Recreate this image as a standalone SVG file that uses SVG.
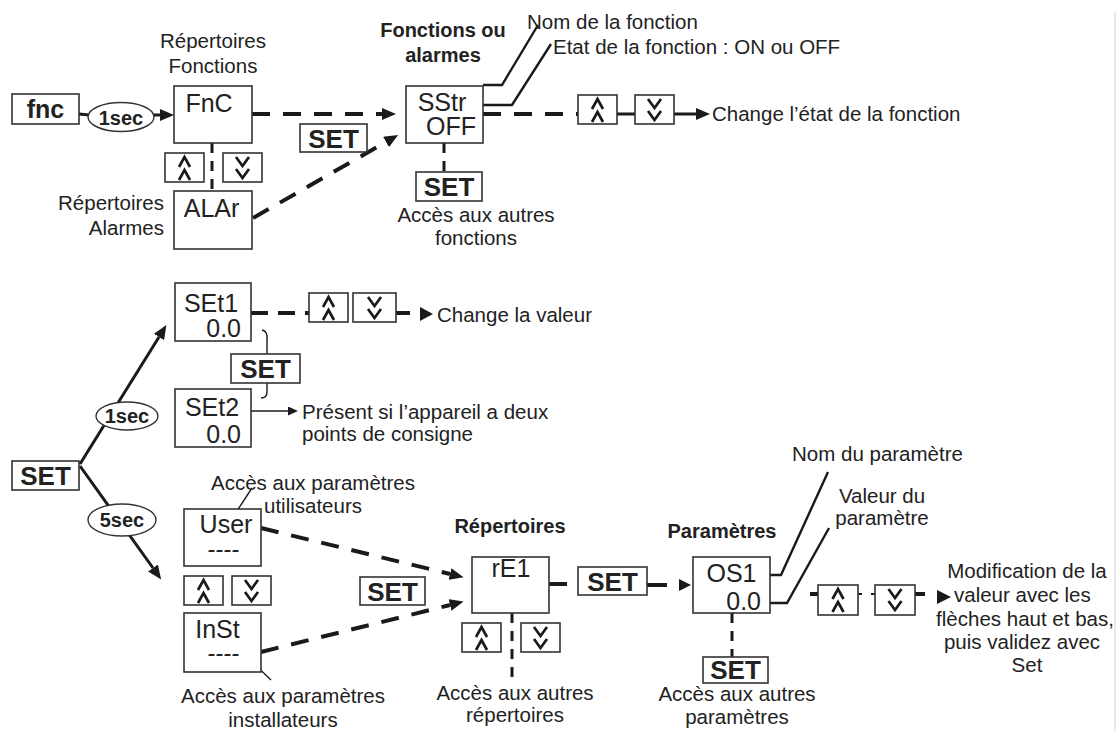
<svg xmlns="http://www.w3.org/2000/svg" width="1119" height="731" viewBox="0 0 1119 731">
<style>
text{font-family:"Liberation Sans",Arial,Helvetica,sans-serif;fill:#222}
.t{font-size:20.5px}
.tb{font-size:20px;font-weight:bold}
.m{text-anchor:middle}
.e{text-anchor:end}
.bx{fill:#fff;stroke:#333;stroke-width:1.6}
.d{font-size:25px}
.dd{font-size:24px}
.k{font-size:26px;font-weight:bold}
.ov{font-size:20px;font-weight:bold}
.dash{fill:none;stroke:#1a1a1a;stroke-width:4;stroke-dasharray:18 13}
.vd{fill:none;stroke:#1a1a1a;stroke-width:3;stroke-dasharray:10 8}
.sl{fill:none;stroke:#1a1a1a;stroke-width:3}
.th{fill:none;stroke:#1a1a1a;stroke-width:1.4}
.ch{fill:none;stroke:#1a1a1a;stroke-width:2.7}
.ah{fill:#1a1a1a}
</style>
<defs>
<marker id="arr" viewBox="0 0 14 12" refX="0" refY="6" markerWidth="14" markerHeight="12" markerUnits="userSpaceOnUse" orient="auto"><path d="M0,0 L14,6 L0,12 z" fill="#1a1a1a"/></marker>
<marker id="arrs" viewBox="0 0 10 9" refX="0" refY="4.5" markerWidth="10" markerHeight="9" markerUnits="userSpaceOnUse" orient="auto"><path d="M0,0 L10,4.5 L0,9 z" fill="#1a1a1a"/></marker>
<g id="upk"><rect class="bx" x="0" y="0" width="39" height="29"/><path class="ch" d="M14,14 L19.5,4 L25,14 M14,27 L19.5,17 L25,27"/></g>
<g id="dnk"><rect class="bx" x="0" y="0" width="39" height="29"/><path class="ch" d="M13,4 L19.5,13 L26,4 M13,16 L19.5,25 L26,16"/></g>
</defs>
<rect x="0" y="0" width="1119" height="731" fill="#fff"/>
<line x1="1115" y1="12" x2="1115" y2="731" stroke="#e2e2e2" stroke-width="1.5"/>

<g id="connectors">
<line class="sl" x1="79" y1="114" x2="89" y2="115"/>
<line class="sl" x1="154" y1="115" x2="160" y2="115" marker-end="url(#arr)"/>
<line class="vd" x1="212" y1="143" x2="212" y2="191"/>
<line class="dash" x1="252" y1="114" x2="382" y2="114" marker-end="url(#arr)"/>
<line class="dash" x1="253" y1="218" x2="386" y2="142" marker-end="url(#arr)"/>
<polyline class="sl" style="stroke-width:2.4" points="483,85 502,85 538,25"/>
<polyline class="sl" style="stroke-width:2.4" points="483,105 512,105 551,44"/>
<line class="dash" x1="483" y1="114" x2="578" y2="114"/>
<line class="sl" x1="617" y1="114" x2="635" y2="114"/>
<line class="sl" x1="674" y1="114" x2="696" y2="114" marker-end="url(#arr)"/>
<line class="vd" x1="444" y1="143" x2="444" y2="172"/>

<line class="dash" style="stroke-dasharray:17 10" x1="251" y1="313" x2="309" y2="313"/>
<line class="sl" style="stroke-width:4" x1="396" y1="313" x2="410" y2="313"/>
<path class="ah" d="M420,307 L433,314 L420,321 z"/>
<path class="th" d="M262,330 Q268,331 267,340 L267,354 M267,383 L267,392 Q267,398 261,398"/>
<line class="th" x1="242" y1="411" x2="288" y2="411" marker-end="url(#arrs)"/>

<line class="sl" x1="80" y1="464" x2="159" y2="337" marker-end="url(#arr)"/>
<line class="sl" x1="80" y1="466" x2="153" y2="568" marker-end="url(#arr)"/>
<line class="th" x1="252" y1="488" x2="233" y2="517"/>
<line class="th" x1="245" y1="655" x2="271" y2="680"/>
<line class="dash" x1="261" y1="528" x2="450" y2="574" marker-end="url(#arr)"/>
<line class="dash" x1="261" y1="652" x2="450" y2="605" marker-end="url(#arr)"/>
<line class="vd" x1="512" y1="613" x2="512" y2="677"/>
<line class="sl" style="stroke-width:4" x1="549" y1="584" x2="567" y2="584"/>
<line class="sl" style="stroke-width:4" x1="647" y1="585" x2="667" y2="585"/>
<path class="ah" d="M679,579 L691,585 L679,591 z"/>
<polyline class="sl" style="stroke-width:2.4" points="770,575 781,575 828,472"/>
<polyline class="sl" style="stroke-width:2.4" points="770,603 787,603 829,528"/>
<line class="vd" x1="732" y1="613" x2="732" y2="657"/>
<line class="sl" style="stroke-width:4" x1="810" y1="594" x2="818" y2="594"/>
<line class="sl" style="stroke-width:2" x1="858" y1="594" x2="862" y2="594"/>
<line class="sl" style="stroke-width:2" x1="871" y1="594" x2="875" y2="594"/>
<line class="sl" style="stroke-width:4" x1="915" y1="594" x2="925" y2="594"/>
<path class="ah" d="M937,590 L951,597 L937,604 z"/>
</g>

<g id="n-fnc"><rect class="bx" x="12" y="94" width="67" height="30"/><text class="k" style="font-size:25px" x="45.5" y="118" text-anchor="middle">fnc</text></g>
<g id="n-1sec-a"><ellipse cx="121" cy="117" rx="33" ry="14.5" fill="#fff" stroke="#333" stroke-width="1.4"/><text class="ov m" x="121" y="125">1sec</text></g>
<g id="n-FnC"><rect class="bx" x="174" y="86" width="78" height="57"/><text class="d m" x="209" y="112">FnC</text>
<text class="t m" x="213" y="48">Répertoires</text><text class="t m" x="213" y="73">Fonctions</text></g>
<g id="k-fnc-up"><use href="#upk" x="165" y="153"/></g>
<g id="k-fnc-dn"><use href="#dnk" x="223" y="153"/></g>
<g id="n-ALAr"><rect class="bx" x="174" y="191" width="78" height="58"/><text class="d m" x="211.5" y="217">ALAr</text>
<text class="t e" x="164" y="210">Répertoires</text><text class="t e" x="164" y="235">Alarmes</text></g>
<g id="k-set1"><rect class="bx" x="300" y="124" width="67" height="28"/><text class="k m" x="333.5" y="148">SET</text></g>
<g id="n-SStr"><rect class="bx" x="406" y="86" width="77" height="57"/><text class="d m" x="442" y="111">SStr</text><text class="d m" x="451" y="135">OFF</text>
<text class="tb m" x="443" y="37">Fonctions ou</text><text class="tb m" x="443" y="62">alarmes</text>
<text class="t" x="527" y="29">Nom de la fonction</text><text class="t" x="553" y="54">Etat de la fonction : ON ou OFF</text></g>
<g id="k-sstr-up"><use href="#upk" x="578" y="95"/></g>
<g id="k-sstr-dn"><use href="#dnk" x="635" y="95"/></g>
<g id="l-change1"><text class="t" x="712" y="121">Change l’état de la fonction</text></g>
<g id="k-set2"><rect class="bx" x="416" y="172" width="66" height="29"/><text class="k m" x="449" y="196">SET</text>
<text class="t m" x="476" y="222">Accès aux autres</text><text class="t m" x="476" y="245">fonctions</text></g>

<g id="n-SEt1"><rect class="bx" x="175" y="283" width="76" height="58"/><text class="d m" x="211" y="312">SEt1</text><text class="d e" x="241" y="337">0.0</text></g>
<g id="k-set1-up"><use href="#upk" x="309" y="293"/></g>
<g id="k-set1-dn"><rect class="bx" x="353" y="293" width="43" height="29"/><path class="ch" d="M368,297 L374.5,306 L381,297 M368,309 L374.5,318 L381,309"/></g>
<g id="l-change2"><text class="t" x="437" y="322">Change la valeur</text></g>
<g id="k-set3"><rect class="bx" x="231" y="354" width="69" height="29"/><text class="k m" x="265.5" y="378">SET</text></g>
<g id="n-SEt2"><rect class="bx" x="175" y="389" width="76" height="58"/><text class="d m" x="212" y="416">SEt2</text><text class="d e" x="241" y="443">0.0</text>
<text class="t" x="302" y="419">Présent si l’appareil a deux</text><text class="t" x="302" y="441">points de consigne</text></g>

<g id="n-SET-main"><rect class="bx" x="12" y="461" width="67" height="29"/><text class="k m" x="45.5" y="485">SET</text></g>
<g id="n-1sec-b"><ellipse cx="127" cy="416" rx="31" ry="14" fill="#fff" stroke="#333" stroke-width="1.4"/><text class="ov m" x="127" y="423">1sec</text></g>
<g id="n-5sec"><ellipse cx="122" cy="520" rx="34" ry="16" fill="#fff" stroke="#333" stroke-width="1.4"/><text class="ov m" x="122" y="527">5sec</text></g>

<g id="n-User"><rect class="bx" x="184" y="509" width="77" height="57"/><text class="d m" x="226" y="533">User</text><text class="dd m" x="223.5" y="557">----</text>
<text class="t m" x="313" y="490">Accès aux paramètres</text><text class="t m" x="313" y="513">utilisateurs</text></g>
<g id="k-user-up"><use href="#upk" x="184" y="576"/></g>
<g id="k-user-dn"><use href="#dnk" x="232" y="576"/></g>
<g id="n-InSt"><rect class="bx" x="184" y="613" width="77" height="59"/><text class="d m" x="217.5" y="638">InSt</text><text class="dd m" x="223.5" y="661">----</text>
<text class="t m" x="283" y="703">Accès aux paramètres</text><text class="t m" x="283" y="727">installateurs</text></g>
<g id="k-set4"><rect class="bx" x="360" y="577" width="65" height="28"/><text class="k m" x="392.5" y="601">SET</text></g>

<g id="n-rE1"><rect class="bx" x="472" y="557" width="77" height="56"/><text class="d m" x="511" y="577">rE1</text>
<text class="tb m" x="510" y="533">Répertoires</text>
<text class="t m" x="515" y="700">Accès aux autres</text><text class="t m" x="515" y="722">répertoires</text></g>
<g id="k-re1-up"><use href="#upk" x="462" y="623"/></g>
<g id="k-re1-dn"><use href="#dnk" x="521" y="623"/></g>
<g id="k-set5"><rect class="bx" x="578" y="567" width="69" height="28"/><text class="k m" x="612.5" y="591">SET</text></g>

<g id="n-OS1"><rect class="bx" x="693" y="557" width="77" height="56"/><text class="d m" x="731.5" y="582">OS1</text><text class="d e" x="761" y="610">0.0</text>
<text class="tb m" x="722" y="538">Paramètres</text>
<text class="t" x="792" y="461">Nom du paramètre</text>
<text class="t m" x="882" y="503">Valeur du</text><text class="t m" x="882" y="525">paramètre</text></g>
<g id="k-set6"><rect class="bx" x="703" y="657" width="65" height="26"/><text class="k m" x="735.5" y="679">SET</text>
<text class="t m" x="737" y="701">Accès aux autres</text><text class="t m" x="737" y="724">paramètres</text></g>
<g id="k-os1-up"><rect class="bx" x="818" y="585" width="40" height="30"/><path class="ch" d="M832.5,599 L838,589 L843.5,599 M832.5,612 L838,602 L843.5,612"/></g>
<g id="k-os1-dn"><rect class="bx" x="875" y="585" width="40" height="30"/><path class="ch" d="M888.5,589 L895,598 L901.5,589 M888.5,601 L895,610 L901.5,601"/></g>
<g id="l-modif"><text class="t m" x="1027" y="578">Modification de la</text><text class="t" x="954" y="602">valeur avec les</text><text class="t m" x="1025" y="626">flèches haut et bas,</text><text class="t m" x="1022" y="649">puis validez avec</text><text class="t m" x="1027" y="672">Set</text></g>
</svg>
